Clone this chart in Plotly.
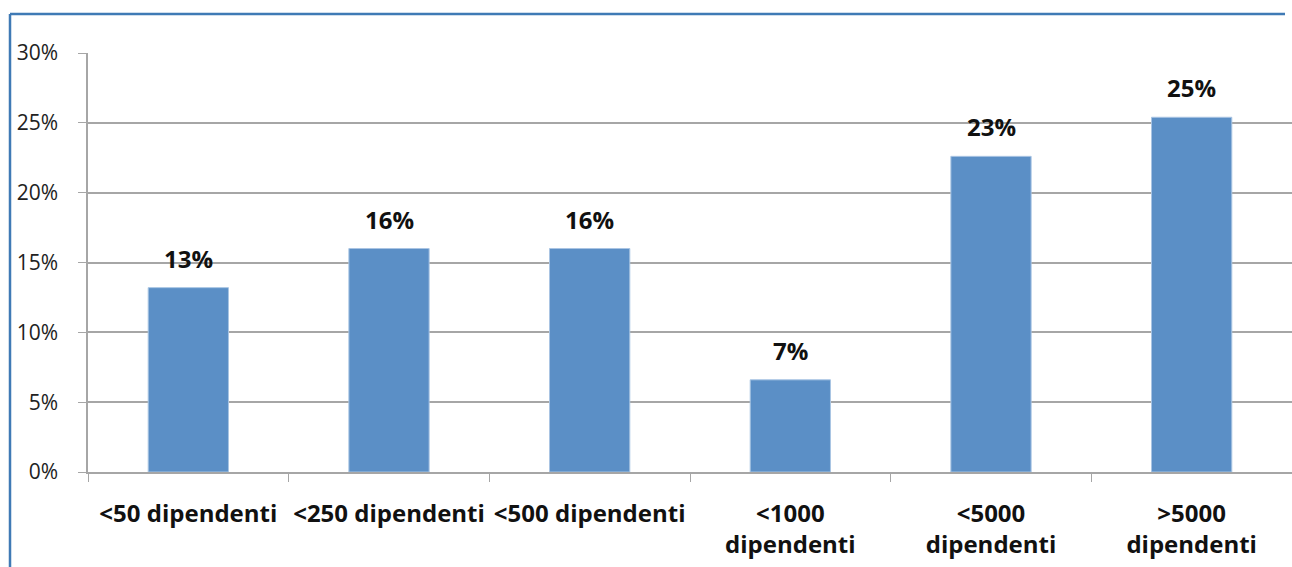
import plotly.graph_objects as go

# Share of companies by workforce size
categories = [
    "&lt;50 dipendenti",
    "&lt;250 dipendenti",
    "&lt;500 dipendenti",
    "&lt;1000<br>dipendenti",
    "&lt;5000<br>dipendenti",
    "&gt;5000<br>dipendenti",
]
shares = [0.132, 0.160, 0.160, 0.066, 0.226, 0.254]
y_ticks = [0, 0.05, 0.10, 0.15, 0.20, 0.25, 0.30]

W, H = 1292, 567
M_L, M_R, M_T, M_B = 88, 0, 53, 95
GRID = "#a6a6a6"
BAR = "#5b8fc6"
FRAME = "#3f7ab5"
FONT = "Open Sans"

fig = go.Figure(
    go.Bar(
        x=categories,
        y=shares,
        width=0.4,
        marker=dict(color=BAR, line=dict(color="#a9c5e3", width=1)),
        hoverinfo="skip",
    )
)

# value labels above each bar
for cat, val in zip(categories, shares):
    fig.add_annotation(
        x=cat, y=val, text=f"<b>{val:.0%}</b>",
        showarrow=False, yanchor="bottom", yshift=11,
        font=dict(family=FONT, size=24, color="#111111"),
    )

# chart frame (left and top edges)
pw = W - M_L - M_R
ph = H - M_T - M_B
fx = (10 - M_L) / pw
fy = 1 + (M_T - 14) / ph
fig.add_shape(type="line", xref="paper", yref="paper",
              x0=fx, x1=fx, y0=-2, y1=fy, line=dict(color=FRAME, width=2.5))
fig.add_shape(type="line", xref="paper", yref="paper",
              x0=fx, x1=(1285 - M_L) / pw, y0=fy, y1=fy, line=dict(color=FRAME, width=2.5))

fig.update_layout(
    width=W, height=H,
    margin=dict(l=M_L, r=M_R, t=M_T, b=M_B, autoexpand=False),
    paper_bgcolor="white", plot_bgcolor="white",
    showlegend=False,
    bargap=0.6,
    font=dict(family=FONT, color="#262626"),
)
fig.update_xaxes(
    range=[-0.5, 5.5],
    automargin=False, tickangle=0,
    showline=True, linecolor=GRID, linewidth=1.5,
    ticks="outside", tickson="boundaries", ticklen=8, tickcolor=GRID,
    tickfont=dict(family=FONT, size=24, color="#111111", weight="bold"),
    ticklabelstandoff=19,
    showgrid=False,
)
fig.update_yaxes(
    range=[0, 0.30],
    automargin=False,
    tickvals=y_ticks, tickformat=".0%",
    showline=True, linecolor=GRID, linewidth=1.5,
    ticks="outside", ticklen=8, tickcolor=GRID,
    showgrid=True, gridcolor=GRID, gridwidth=1.5,
    zeroline=False,
    tickfont=dict(family=FONT, size=21, color="#222222"),
    ticklabelstandoff=16,
)

fig.write_html("out.html")
